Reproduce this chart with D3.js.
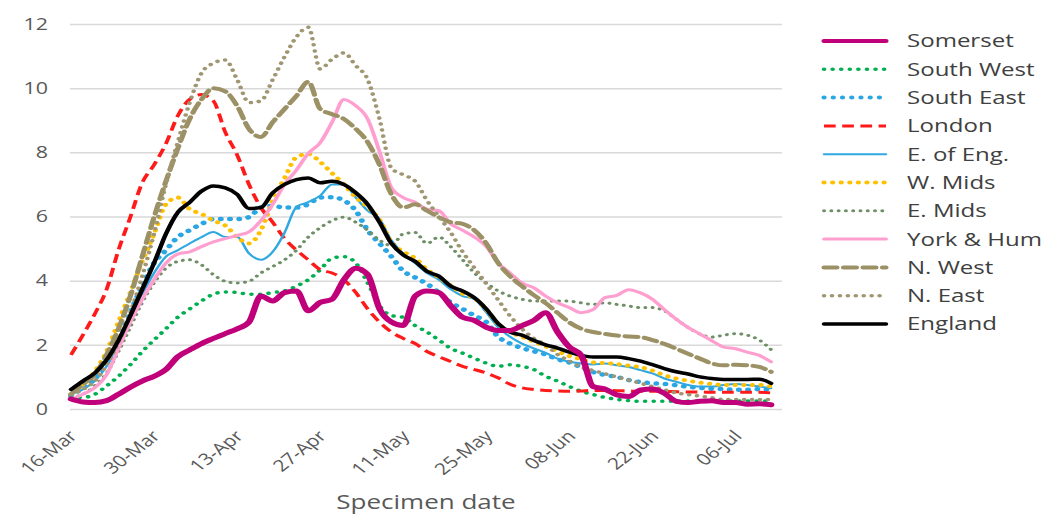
<!DOCTYPE html>
<html>
<head>
<meta charset="utf-8">
<script src="https://cdn.jsdelivr.net/npm/d3@7"></script>
<style>
  body { margin: 0; background: #fff; }
  svg { display: block; }
  text { font-family: "Open Sans", "DejaVu Sans", sans-serif; }
</style>
</head>
<body>
<div id="chart"></div>
<script>
// values every 2nd day, 16-Mar .. 12-Jul
const somerset = [0.31,0.22,0.2,0.26,0.46,0.68,0.87,1.02,1.23,1.63,1.84,2.04,2.2,2.35,2.5,2.71,3.52,3.37,3.63,3.68,3.06,3.32,
  3.42,4.03,4.39,4.19,3.12,2.71,2.6,3.52,3.68,3.63,3.22,2.86,2.76,2.55,2.45,2.45,2.6,2.76,3.0,2.4,
  1.93,1.67,0.7,0.62,0.44,0.39,0.59,0.62,0.49,0.24,0.2,0.24,0.26,0.2,0.2,0.15,0.16,0.13];
const southWest = [0.36,0.36,0.46,0.72,1.02,1.38,1.79,2.15,2.5,2.86,3.12,3.37,3.58,3.65,3.63,3.58,3.58,3.63,3.68,3.83,4.03,4.34,
  4.7,4.75,4.55,3.93,3.22,2.91,2.86,2.6,2.4,2.15,1.89,1.74,1.58,1.43,1.33,1.38,1.33,1.23,1.02,0.87,
  0.7,0.55,0.45,0.36,0.3,0.26,0.24,0.24,0.24,0.24,0.25,0.25,0.25,0.25,0.25,0.25,0.25,0.25];
const southEast = [0.41,0.66,0.97,1.43,2.09,3.01,3.83,4.55,4.95,5.36,5.57,5.77,5.92,5.92,5.92,5.98,6.28,6.33,6.28,6.28,6.38,6.59,
  6.6,6.5,6.18,5.57,5.16,4.75,4.3,4.1,3.9,3.63,3.32,3.12,2.91,2.71,2.25,2.04,1.9,1.8,1.7,1.55,
  1.45,1.3,1.15,1.06,1.0,0.9,0.84,0.8,0.78,0.74,0.69,0.66,0.63,0.62,0.6,0.6,0.62,0.6];
const london = [1.69,2.3,2.96,3.73,4.95,5.98,7.05,7.61,8.27,9.14,9.65,9.8,9.6,8.63,7.92,7.0,6.28,5.82,5.31,4.95,4.65,4.34,
  4.24,4.03,3.63,3.12,2.71,2.4,2.2,2.04,1.79,1.63,1.48,1.33,1.23,1.12,0.97,0.77,0.66,0.61,0.58,0.56,
  0.55,0.56,0.58,0.58,0.57,0.56,0.55,0.55,0.55,0.54,0.53,0.53,0.52,0.52,0.52,0.52,0.52,0.5];
const eastOfEng = [0.46,0.61,0.87,1.33,1.99,2.81,3.58,4.24,4.75,4.95,5.16,5.36,5.52,5.36,5.36,4.85,4.65,4.9,5.5,6.3,6.45,6.65,
  7.0,7.0,6.59,6.18,5.92,5.26,4.85,4.55,4.24,4.03,3.73,3.52,3.42,3.01,2.55,2.25,2.04,1.89,1.75,1.57,
  1.47,1.42,1.39,1.42,1.36,1.31,1.21,1.11,0.95,0.85,0.75,0.7,0.7,0.75,0.78,0.75,0.7,0.65];
const westMids = [0.46,0.77,1.17,1.79,2.71,3.63,4.6,5.46,6.38,6.59,6.23,6.08,5.87,5.72,5.36,5.16,5.57,6.49,7.2,7.85,7.95,7.7,
  7.35,7.0,6.6,6.3,5.9,5.2,4.9,4.7,4.35,4.1,3.85,3.6,3.45,3.1,2.65,2.4,2.25,2.1,1.95,1.8,
  1.65,1.55,1.45,1.43,1.4,1.35,1.3,1.2,1.05,0.95,0.88,0.82,0.78,0.75,0.75,0.75,0.75,0.7];
const eastMids = [0.36,0.46,0.72,1.12,1.79,2.55,3.32,3.93,4.39,4.6,4.65,4.49,4.19,3.98,3.93,3.98,4.24,4.44,4.65,4.95,5.36,5.65,
  5.87,5.98,5.82,5.57,5.26,5.1,5.46,5.5,5.16,5.36,5.06,4.65,4.24,3.93,3.68,3.52,3.42,3.37,3.37,3.37,
  3.36,3.31,3.26,3.31,3.26,3.21,3.16,3.16,3.06,2.8,2.54,2.34,2.24,2.3,2.35,2.3,2.15,1.85];
const yorkHum = [0.3,0.46,0.66,1.07,1.89,2.71,3.42,4.03,4.55,4.83,4.9,5.06,5.21,5.31,5.41,5.52,5.87,6.38,7.0,7.45,7.97,8.3,
  8.94,9.65,9.45,9.04,8.02,6.9,6.59,6.44,6.23,6.18,5.77,5.57,5.36,5.06,4.55,4.24,3.93,3.78,3.52,3.31,
  3.16,3.0,3.1,3.47,3.54,3.72,3.62,3.42,3.1,2.8,2.54,2.34,2.13,1.93,1.88,1.77,1.67,1.47];
const northWest = [0.46,0.77,1.07,1.69,2.5,3.52,4.75,5.98,7.1,8.12,9.04,9.65,10.0,9.9,9.45,8.73,8.48,8.94,9.35,9.76,10.2,9.35,
  9.19,9.04,8.73,8.32,7.61,6.69,6.28,6.38,6.18,5.98,5.82,5.77,5.57,5.16,4.55,4.14,3.83,3.55,3.3,3.0,
  2.7,2.5,2.4,2.34,2.29,2.26,2.24,2.15,2.03,1.88,1.72,1.57,1.42,1.36,1.38,1.36,1.31,1.16];
const northEast = [0.46,0.61,0.87,1.38,2.09,3.01,4.14,5.46,7.0,8.32,9.55,10.47,10.78,10.88,10.27,9.55,9.6,10.27,10.98,11.6,11.9,10.6,
  10.9,11.1,10.7,10.27,9.04,7.51,7.3,7.1,6.5,6.0,5.5,4.9,4.4,3.9,3.4,2.9,2.5,2.2,2.0,1.7,
  1.5,1.3,1.2,1.1,1.0,0.9,0.8,0.7,0.6,0.5,0.45,0.4,0.35,0.3,0.3,0.3,0.3,0.3];
const england = [0.61,0.87,1.12,1.53,2.14,2.91,3.73,4.55,5.46,6.13,6.44,6.79,6.95,6.89,6.69,6.25,6.28,6.74,7.0,7.15,7.2,7.05,
  7.1,7.0,6.74,6.38,5.82,5.16,4.8,4.6,4.29,4.14,3.83,3.68,3.47,3.12,2.66,2.4,2.3,2.14,2.0,1.9,
  1.77,1.67,1.62,1.62,1.62,1.57,1.49,1.38,1.26,1.16,1.09,1.0,0.95,0.92,0.92,0.92,0.93,0.8];

const dates = d3.timeDay.range(new Date(2020, 2, 16), new Date(2020, 6, 13), 2);
const tickDates = d3.timeDay.range(new Date(2020, 2, 16), new Date(2020, 6, 7), 14);
const yTicks = [0, 2, 4, 6, 8, 10, 12];

const series = [
  {name: "Somerset",    values: somerset,  color: "#c0007a", width: 5,   dash: null,       cap: "round"},
  {name: "South West",  values: southWest, color: "#00b050", width: 3.5, dash: "0.1 6.5",  cap: "round"},
  {name: "South East",  values: southEast, color: "#2aa6e4", width: 4.5, dash: "0.1 7",    cap: "round"},
  {name: "London",      values: london,    color: "#ff1a1a", width: 3,   dash: "9 5",      cap: "butt"},
  {name: "E. of Eng.",  values: eastOfEng, color: "#30a8e0", width: 2,   dash: null,       cap: "round"},
  {name: "W. Mids",     values: westMids,  color: "#ffc000", width: 4,   dash: "0.1 6.5",  cap: "round"},
  {name: "E. Mids",     values: eastMids,  color: "#6f8f66", width: 3,   dash: "0.1 5.5",  cap: "round"},
  {name: "York & Hum",  values: yorkHum,   color: "#ff9fd0", width: 3,   dash: null,       cap: "round"},
  {name: "N. West",     values: northWest, color: "#9c9165", width: 4,   dash: "10 5",     cap: "round"},
  {name: "N. East",     values: northEast, color: "#a09672", width: 3.5, dash: "0.1 6",    cap: "round"},
  {name: "England",     values: england,   color: "#000000", width: 3.5, dash: null,       cap: "round"}
];
const drawOrder = ["South West","South East","London","E. of Eng.","W. Mids","E. Mids","York & Hum","N. West","N. East","England","Somerset"];

// picture is stretched sideways, so draw in a narrower box
const W = 1043, H = 518, SX = 1.3;
const px = v => v / SX;

const svg = d3.select("#chart").append("svg")
    .attr("width", W)
    .attr("height", H)
    .attr("viewBox", `0 0 ${W / SX} ${H}`)
    .attr("preserveAspectRatio", "none");

const x = d3.scaleTime()
    .domain([new Date(2020, 2, 16), new Date(2020, 6, 14)])
    .range([px(71), px(783)]);
const y = d3.scaleLinear().domain([0, 12]).range([409, 24]);

// gridlines + y labels
const yAxis = svg.append("g")
    .attr("transform", `translate(${px(70)},0)`)
    .call(d3.axisLeft(y).tickValues(yTicks).tickSize(-(px(782) - px(70))).tickPadding(px(22)));
yAxis.select(".domain").remove();
yAxis.selectAll("line").attr("stroke", "#d9d9d9").attr("stroke-width", 1.5);
yAxis.selectAll("text").attr("fill", "#595959").style("font-size", "16.5px");

// x labels
const xAxis = svg.append("g")
    .attr("transform", `translate(0,${y(0)})`)
    .call(d3.axisBottom(x).tickValues(tickDates).tickSize(0).tickFormat(d3.timeFormat("%d-%b")));
xAxis.select(".domain").remove();
xAxis.selectAll("text")
    .attr("fill", "#595959")
    .style("font-size", "16px")
    .style("text-anchor", "end")
    .attr("dx", 0).attr("dy", 0)
    .attr("transform", "translate(3,26)rotate(-45)");

svg.append("text")
    .attr("x", px(426))
    .attr("y", 509)
    .attr("text-anchor", "middle")
    .attr("fill", "#595959")
    .style("font-size", "20px")
    .text("Specimen date");

const line = d3.line()
    .x((d, i) => x(dates[i]))
    .y(d => y(d))
    .curve(d3.curveMonotoneX);

drawOrder.forEach(name => {
  const s = series.find(d => d.name === name);
  svg.append("path")
      .datum(s.values)
      .attr("d", line)
      .attr("fill", "none")
      .attr("stroke", s.color)
      .attr("stroke-width", s.width)
      .attr("stroke-linecap", s.cap)
      .attr("stroke-linejoin", "round")
      .attr("stroke-dasharray", s.dash);
});

// legend
const legend = svg.append("g");
series.forEach((s, i) => {
  const ry = 41 + i * 28.3;
  legend.append("line")
      .attr("x1", px(824)).attr("x2", px(886))
      .attr("y1", ry).attr("y2", ry)
      .attr("stroke", s.color)
      .attr("stroke-width", Math.min(s.width, 4))
      .attr("stroke-linecap", s.cap)
      .attr("stroke-dasharray", s.dash);
  legend.append("text")
      .attr("x", px(907))
      .attr("y", ry)
      .attr("dy", "0.35em")
      .attr("fill", "#404040")
      .style("font-size", "18.5px")
      .text(s.name);
});
</script>
</body>
</html>
